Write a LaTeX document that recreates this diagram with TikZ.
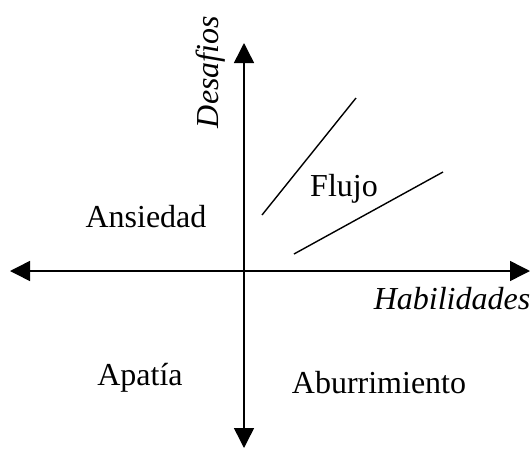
\documentclass[tikz,border=0pt]{standalone}
\usepackage{fontspec}
\setmainfont{Liberation Serif}
\usetikzlibrary{arrows.meta}
\tikzset{
  axis/.style={line width=1.5pt,{Triangle[width=20pt,length=20pt]}-{Triangle[width=20pt,length=20pt]}},
  flowline/.style={line width=1.4pt},
  lbl/.style={anchor=base,inner sep=0pt,font=\fontsize{32}{36}\selectfont},
  ilbl/.style={lbl,font=\fontsize{32}{36}\selectfont\itshape}
}
\begin{document}
\begin{tikzpicture}[x=1pt,y=-1pt]
\useasboundingbox (0,0) rectangle (531,448);
\coordinate (L) at (10,271);
\coordinate (R) at (530,271);
\coordinate (T) at (244,43);
\coordinate (B) at (244,448);
\draw[axis] (L) -- (R);
\draw[axis] (B) -- (T);
\coordinate (a1) at (262,215);
\coordinate (a2) at (356,98);
\coordinate (b1) at (294,254);
\coordinate (b2) at (443,172);
\draw[flowline] (a1) -- (a2);
\draw[flowline] (b1) -- (b2);
\node[lbl] (ans) at (146,227) {Ansiedad};
\node[lbl] (apa) at (140,385) {Apatía};
\node[lbl] (abu) at (379,393) {Aburrimiento};
\node[lbl] (flu) at (344,196) {Flujo};
\node[ilbl] (hab) at (452,309) {Habilidades};
\node[ilbl,rotate=90] (des) at (218,72) {Desafios};
\end{tikzpicture}
\end{document}
